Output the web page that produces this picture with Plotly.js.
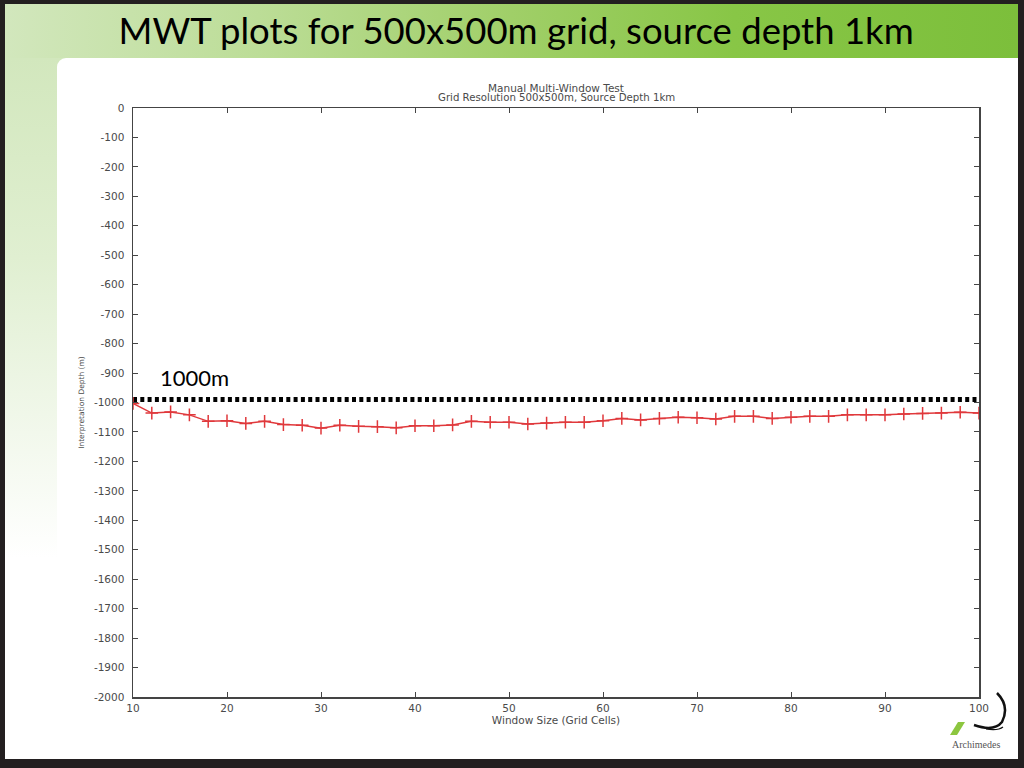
<!DOCTYPE html>
<html>
<head>
<meta charset="utf-8">
<script src="https://cdn.plot.ly/plotly-3.0.1.min.js"></script>
<style>
  html, body { margin:0; padding:0; width:1024px; height:768px; overflow:hidden; background:#231f20; }
  #frame { position:absolute; left:5px; top:4px; width:1013px; height:755px; background:#ffffff; }
  #header { position:absolute; left:0; top:0; width:1013px; height:60px;
    background: linear-gradient(to right, #d2e7bd 0%, #bcdd97 25%, #a0cf68 50%, #88c646 72%, #7cbf3b 100%); }
  #leftstrip { position:absolute; left:0; top:54px; width:70px; height:500px;
    background: linear-gradient(to bottom, #d2e7bd 0%, #e0efd1 40%, #f2f8ec 75%, #ffffff 100%); }
  #panel { position:absolute; left:52px; top:54px; width:961px; height:701px; background:#ffffff; border-top-left-radius:9px; }
  #chart { position:absolute; left:0; top:0; width:1024px; height:768px; }
  #logo { position:absolute; left:940px; top:684px; }
</style>
</head>
<body>
<div id="frame">
  <div id="header"></div>
  <div id="leftstrip"></div>
  <div id="panel"></div>
</div>
<svg id="logo" width="70" height="70" viewBox="0 0 70 70">
  <polygon points="18,38 25,38 17,51 10,51" fill="#8cc63f"/>
  <path d="M 57 9 Q 70 22 62 38 Q 54 48 34 41" fill="none" stroke="#111" stroke-width="2.5"/>
  <path d="M 46 45 Q 58 47 63 43" fill="none" stroke="#111" stroke-width="1.2"/>
</svg>
<div id="chart"></div>
<script>
// Data
const windowSize = [10,12,14,16,18,20,22,24,26,28,30,32,34,36,38,40,42,44,46,48,50,52,54,56,58,60,62,64,66,68,70,72,74,76,78,80,82,84,86,88,90,92,94,96,98,100];
const depth = [-1003,-1036,-1032,-1042,-1064,-1062,-1071,-1064,-1075,-1077,-1087,-1077,-1081,-1082,-1086,-1079,-1079,-1076,-1064,-1067,-1067,-1073,-1070,-1067,-1067,-1062,-1054,-1059,-1054,-1050,-1052,-1056,-1047,-1047,-1054,-1050,-1047,-1047,-1042,-1042,-1042,-1039,-1037,-1036,-1033,-1036];
const refX = [10, 100];
const refY = [-990, -990];
const refLabel = '1000m';
const xTicks = [10,20,30,40,50,60,70,80,90,100];
const yTicks = [0,-100,-200,-300,-400,-500,-600,-700,-800,-900,-1000,-1100,-1200,-1300,-1400,-1500,-1600,-1700,-1800,-1900,-2000];

const smallFont = {family:'DejaVu Sans', size:10.5, color:'#4a4a4a'};

const traces = [
  {
    x: refX, y: refY, mode:'lines', type:'scatter',
    line:{color:'#000000', width:5, dash:'4px,3.3px'},
    hoverinfo:'skip', showlegend:false
  },
  {
    x: windowSize, y: depth, mode:'lines+markers', type:'scatter',
    line:{color:'#e0393c', width:1.5},
    marker:{symbol:'cross-thin', size:9, line:{color:'#e0393c', width:1.5}},
    showlegend:false
  }
];

const layout = {
  width:1024, height:768,
  paper_bgcolor:'rgba(0,0,0,0)', plot_bgcolor:'rgba(0,0,0,0)',
  margin:{l:133, r:45, t:108, b:71, pad:0},
  title:{
    text:'MWT plots for 500x500m grid, source depth 1km',
    font:{family:'Lato', size:36.5, color:'#000000'},
    x:0.504, xanchor:'center', yref:'container', y:1-31/768, yanchor:'middle'
  },
  xaxis:{
    range:[10,100], tickvals:xTicks, ticktext:xTicks.map(String),
    showgrid:false, zeroline:false,
    showline:true, linecolor:'#444444', linewidth:1.5, mirror:'ticks',
    ticks:'inside', ticklen:5, tickwidth:1, tickcolor:'#444444',
    tickfont:smallFont, ticklabelstandoff:1,
    title:{text:'Window Size (Grid Cells)', font:{family:'DejaVu Sans', size:10.5, color:'#4a4a4a'}, standoff:1}
  },
  yaxis:{
    range:[-2000,0], tickvals:yTicks, ticktext:yTicks.map(String),
    showgrid:false, zeroline:false,
    showline:true, linecolor:'#444444', linewidth:1.5, mirror:'ticks',
    ticks:'inside', ticklen:5, tickwidth:1, tickcolor:'#444444',
    tickfont:smallFont, ticklabelstandoff:5,
    title:{text:'Interpretation Depth (m)', font:{family:'DejaVu Sans', size:7.5, color:'#4a4a4a'}, standoff:8}
  },
  annotations:[
    {xref:'paper', yref:'paper', x:0.5, y:1, yshift:20, xanchor:'center', yanchor:'middle',
     text:'Manual Multi-Window Test', showarrow:false, font:{family:'DejaVu Sans', size:10.5, color:'#4a4a4a'}},
    {xref:'paper', yref:'paper', x:0.5, y:1, yshift:11, xanchor:'center', yanchor:'middle',
     text:'Grid Resolution 500x500m, Source Depth 1km', showarrow:false, font:{family:'DejaVu Sans', size:10.2, color:'#4a4a4a'}},
    {xref:'x', yref:'y', x:10, y:refY[0], xshift:25, yshift:22, xanchor:'left', yanchor:'middle',
     text:refLabel, showarrow:false, font:{family:'Lato', size:22, color:'#000000'}},
    {xref:'paper', yref:'paper', x:1, y:0, xshift:23, yshift:-47, xanchor:'right', yanchor:'middle',
     text:'Archimedes', showarrow:false, font:{family:'Liberation Serif', size:10, color:'#555555'}}
  ]
};

Plotly.newPlot('chart', traces, layout, {displayModeBar:false, staticPlot:true});
</script>
</body>
</html>
